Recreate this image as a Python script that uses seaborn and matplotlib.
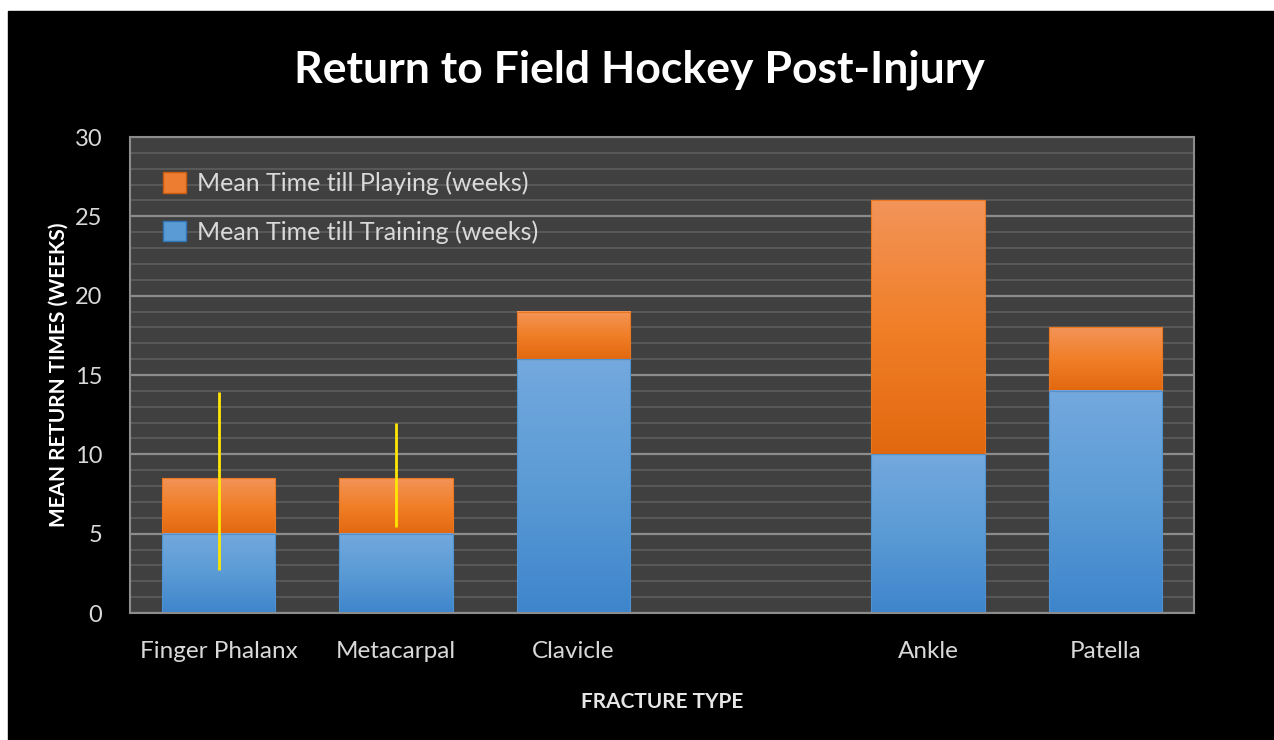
import numpy as np
import pandas as pd
import matplotlib
matplotlib.use("Agg")
import matplotlib.pyplot as plt
from matplotlib.colors import LinearSegmentedColormap
from matplotlib.patches import Patch, Rectangle
import seaborn as sns

# data
fractures = ["Finger Phalanx", "Metacarpal", "Clavicle", "", "Ankle", "Patella"]
training_weeks = [5, 5, 16, 0, 10, 14]
playing_weeks = [8.5, 8.5, 19, 0, 26, 18]   # total height of stacked bar
err_low = [2.7, 5.4, np.nan, np.nan, np.nan, np.nan]
err_high = [13.9, 12.0, np.nan, np.nan, np.nan, np.nan]

df = pd.DataFrame({"fracture": fractures, "training": training_weeks, "playing": playing_weeks})

sns.set_theme(style="dark")
plt.rcParams["font.family"] = ["Lato", "DejaVu Sans"]

fig = plt.figure(figsize=(12.74, 7.4), dpi=100, facecolor="white")
# black card with a thin white strip top/left like the screenshot
fig.patches.append(Rectangle((8 / 1274, 0), 1, 729 / 740, transform=fig.transFigure,
                             color="black", zorder=-10))
ax = fig.add_axes([130 / 1274, (740 - 613) / 740, 1064 / 1274, 476 / 740])
ax.set_facecolor("#404040")

orange = "#ED7D31"
blue = "#5B9BD5"
sns.barplot(data=df, x="fracture", y="playing", order=fractures, color=orange,
            width=0.64, ax=ax, saturation=1)
sns.barplot(data=df, x="fracture", y="training", order=fractures, color=blue,
            width=0.64, ax=ax, saturation=1)

# gradient fills for the bars
cm_orange = LinearSegmentedColormap.from_list("o", ["#E2680F", "#F07F28", "#F39459"])
cm_blue = LinearSegmentedColormap.from_list("b", ["#3E85CC", "#5B9BD5", "#73A9DE"])
grad = np.linspace(0, 1, 256).reshape(-1, 1)
n = len(fractures)
bars = ax.patches[:2 * n]
for i, p in enumerate(bars):
    h = p.get_height()
    if h <= 0:
        continue
    x0 = p.get_x()
    w = p.get_width()
    if i < n:
        y0 = training_weeks[i]
        cmap = cm_orange
    else:
        y0 = 0
        cmap = cm_blue
    p.set_visible(False)
    ax.imshow(grad, extent=(x0, x0 + w, y0, h), origin="lower", cmap=cmap,
              aspect="auto", zorder=2)
    ax.add_patch(Rectangle((x0, y0), w, h - y0, fill=False, lw=0.8,
                           ec=cmap(0.3), zorder=2.5))

# yellow error lines
xs = np.arange(n)
ax.vlines(xs, err_low, err_high, color="#FFE600", lw=2, zorder=4)

ax.set_xlim(-0.5, n - 0.5)
ax.set_ylim(0, 30)
ax.set_yticks(range(0, 31, 5))
ax.set_yticks(range(0, 31, 1), minor=True)
ax.grid(False)
ax.grid(which="minor", axis="y", color="#5e5e5e", lw=1.2, zorder=0)
ax.grid(which="major", axis="y", color="#8c8c8c", lw=1.6, zorder=0)
ax.set_axisbelow(True)
for s in ax.spines.values():
    s.set_visible(True)
    s.set_color("#8c8c8c")
    s.set_linewidth(1.5)

ax.tick_params(axis="both", which="both", length=0, colors="#d9d9d9")
ax.tick_params(axis="x", pad=20, labelsize=17.5)
ax.tick_params(axis="y", pad=20, labelsize=17)

ax.set_xlabel("FRACTURE TYPE", fontsize=15, fontweight="bold", color="#e6e6e6", labelpad=22)
ax.set_ylabel("MEAN RETURN TIMES (WEEKS)", fontsize=15, fontweight="bold", color="white",
              labelpad=4)

fig.text(0.502, 1 - 83 / 740, "Return to Field Hockey Post-Injury", ha="center",
         va="baseline", fontsize=32, fontweight="bold", color="white")

handles = [Patch(facecolor=orange, edgecolor="#C55A11"),
           Patch(facecolor=blue, edgecolor="#2E75B6")]
leg = ax.legend(handles, ["Mean Time till Playing (weeks)", "Mean Time till Training (weeks)"],
                loc="upper left", bbox_to_anchor=(0.01, 0.975), frameon=False,
                fontsize=18, labelcolor="#d9d9d9", handlelength=0.9, handleheight=0.9,
                handletextpad=0.45, labelspacing=1.0)

fig.savefig("out.png", dpi=100, facecolor=fig.get_facecolor())
